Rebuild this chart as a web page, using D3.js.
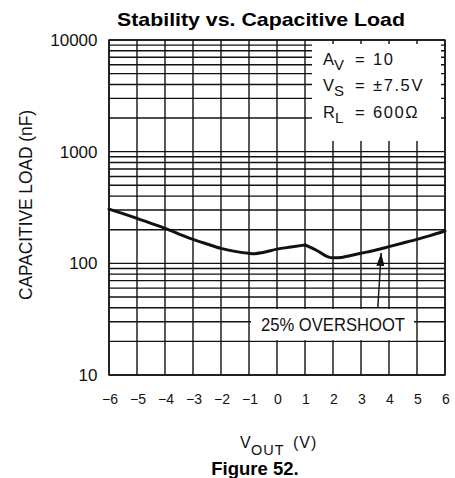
<!DOCTYPE html>
<html><head><meta charset="utf-8">
<script src="https://cdn.jsdelivr.net/npm/d3@7"></script>
<style>body{margin:0;background:#fff}svg{display:block}</style>
</head><body>
<svg id="c" width="455" height="478"></svg>
<script>
// ---- data ----
const xTickValues = [-6,-5,-4,-3,-2,-1,0,1,2,3,4,5,6];
const xTickLabels = ["−6","−5","−4","−3","−2","−1","0","1","2","3","4","5","6"];
const yTickValues = [10,100,1000,10000];
const yTickLabels = ["10","100","1000","10000"];
// 25% overshoot curve (nF), split at the kink near VOUT = 1 V
const curveLeftX  = [-6,-5.5,-5,-4.5,-4,-3.5,-3,-2.5,-2,-1.5,-1,-0.8,-0.5,0,0.5,1];
const curveLeftY  = [306,279,253,228,206,183,164,149,136,128,123,122,125,134,140,146];
const curveRightX = [1,1.5,1.8,2,2.3,2.6,3,3.5,4,4.5,5,5.5,6];
const curveRightY = [146,127,115,112,113,117,123,131,141,152,164,178,195];
const arrowX = [3.6, 3.72];
const arrowY = [40, 124];
const labelBand = [20, 40];
const conditions = [["A","V","=","10"],["V","S","=","±7.5V"],["R","L","=","600Ω"]];

// ---- chart ----
const svg = d3.select("#c");
const L = 109, R = 445, T = 40, B = 375;
const x = d3.scaleLinear().domain([-6,6]).range([L,R]);
const y = d3.scaleLog().domain([10,10000]).range([B,T]);
const ink = "#111";
const iso = "'Liberation Sans', Arial, sans-serif";
const arial = "'Liberation Sans', Arial, sans-serif";

const grid = svg.append("g").attr("stroke", ink).attr("stroke-width", 1.4).attr("fill","none");
grid.selectAll("line.h").data(y.ticks()).join("line").attr("class","h")
  .attr("x1", L).attr("x2", R).attr("y1", d => y(d)).attr("y2", d => y(d));
grid.selectAll("line.v").data(xTickValues).join("line").attr("class","v")
  .attr("x1", d => x(d)).attr("x2", d => x(d)).attr("y1", T).attr("y2", B);
grid.append("rect").attr("x", L).attr("y", T).attr("width", R-L).attr("height", B-T);

// white annotation box (top-right)
svg.append("rect").attr("x", 312).attr("y", 44).attr("width", 129).attr("height", 97).attr("fill", "#fff");

// white label box for "25% OVERSHOOT"
svg.append("rect").attr("x", 251).attr("y", y(labelBand[1]) + 1.2)
  .attr("width", 163).attr("height", y(labelBand[0]) - y(labelBand[1]) - 2.4).attr("fill", "#fff");

// curve
const line = d3.line().x(d => x(d[0])).y(d => y(d[1])).curve(d3.curveMonotoneX);
[[curveLeftX, curveLeftY],[curveRightX, curveRightY]].forEach(([xs, ys]) => {
  svg.append("path").datum(xs.map((v,i) => [v, ys[i]]))
    .attr("d", line).attr("fill","none").attr("stroke", ink).attr("stroke-width", 3)
    .attr("stroke-linejoin","round").attr("stroke-linecap","round");
});

// arrow
const defs = svg.append("defs");
defs.append("marker").attr("id","ah").attr("viewBox","0 0 13 8").attr("refX",13).attr("refY",4)
  .attr("markerWidth",13).attr("markerHeight",8).attr("markerUnits","userSpaceOnUse").attr("orient","auto")
  .append("path").attr("d","M0,0L13,4L0,8Z").attr("fill", ink);
svg.append("line").attr("x1", x(arrowX[0])).attr("y1", y(arrowY[0]))
  .attr("x2", x(arrowX[1])).attr("y2", y(arrowY[1]))
  .attr("stroke", ink).attr("stroke-width", 1.4).attr("marker-end","url(#ah)");

svg.append("text").attr("x", 333).attr("y", 331).attr("text-anchor","middle")
  .attr("font-family", iso).attr("font-size", 18).attr("fill", ink)
  .attr("textLength", 144).attr("lengthAdjust","spacingAndGlyphs").text("25% OVERSHOOT");

// conditions
conditions.forEach((c, i) => {
  const by = 64.5 + i * 26.6;
  const t = svg.append("text").attr("font-family", iso).attr("font-size", 16.5).attr("fill", ink);
  t.append("tspan").attr("x", 323).attr("y", by).text(c[0]);
  t.append("tspan").attr("dy", 5).attr("font-size", 15).text(c[1]);
  t.append("tspan").attr("x", 355).attr("y", by).text(c[2]);
  t.append("tspan").attr("x", 373).attr("y", by).attr("letter-spacing", 1.6).text(c[3]);
});

// y tick labels
svg.append("g").selectAll("text").data(yTickValues).join("text")
  .attr("x", 97.5).attr("y", d => y(d) + 6).attr("text-anchor","end")
  .attr("font-family", arial).attr("font-size", 17).attr("fill", ink)
  .text((d,i) => yTickLabels[i]);

// x tick labels
svg.append("g").selectAll("text").data(xTickValues).join("text")
  .attr("x", d => x(d) + 1).attr("y", 403.5).attr("text-anchor","middle")
  .attr("font-family", iso).attr("font-size", 14).attr("fill", ink)
  .text((d,i) => xTickLabels[i]);

// axis titles
svg.append("text").attr("transform","translate(31.5,205) rotate(-90)").attr("text-anchor","middle")
  .attr("font-family", iso).attr("font-size", 17.5).attr("fill", ink)
  .attr("textLength", 190).attr("lengthAdjust","spacingAndGlyphs").text("CAPACITIVE LOAD (nF)");

const xt = svg.append("text").attr("font-family", iso).attr("font-size", 16).attr("fill", ink);
xt.append("tspan").attr("x", 240).attr("y", 448).text("V");
xt.append("tspan").attr("x", 251).attr("y", 455).attr("font-size", 14.5).attr("letter-spacing", 1).text("OUT");
xt.append("tspan").attr("x", 293).attr("y", 448).attr("letter-spacing", 1).text("(V)");

svg.append("text").attr("x", 261).attr("y", 25.5).attr("text-anchor","middle")
  .attr("font-family", arial).attr("font-weight","bold").attr("font-size", 18.5).attr("fill", "#000")
  .attr("textLength", 288).attr("lengthAdjust","spacingAndGlyphs").text("Stability vs. Capacitive Load");

svg.append("text").attr("x", 255).attr("y", 475).attr("text-anchor","middle")
  .attr("font-family", arial).attr("font-weight","bold").attr("font-size", 18.5).attr("fill", "#000")
  .text("Figure 52.");
</script>
</body></html>
